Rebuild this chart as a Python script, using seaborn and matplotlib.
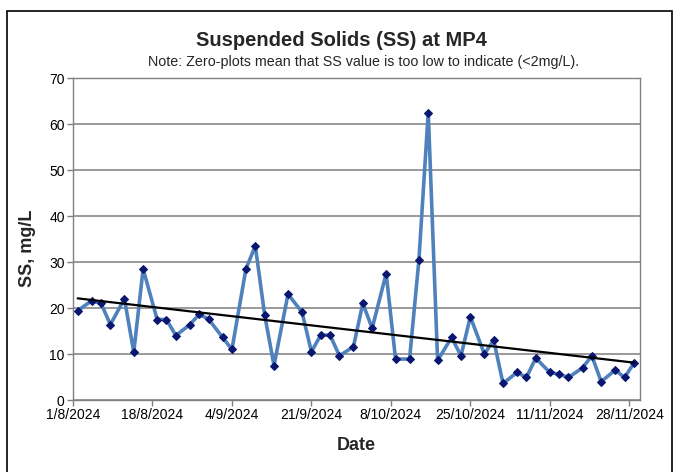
import numpy as np
import pandas as pd
import matplotlib
matplotlib.use("Agg")
import matplotlib.pyplot as plt
import matplotlib.dates as mdates
import seaborn as sns

# ---- data ----
dates = [
    "2024-08-02", "2024-08-05", "2024-08-07", "2024-08-09", "2024-08-12", "2024-08-14",
    "2024-08-16", "2024-08-19", "2024-08-21", "2024-08-23", "2024-08-26", "2024-08-28",
    "2024-08-30", "2024-09-02", "2024-09-04", "2024-09-07", "2024-09-09", "2024-09-11",
    "2024-09-13", "2024-09-16", "2024-09-19", "2024-09-21", "2024-09-23", "2024-09-25",
    "2024-09-27", "2024-09-30", "2024-10-02", "2024-10-04", "2024-10-07", "2024-10-09",
    "2024-10-12", "2024-10-14", "2024-10-16", "2024-10-18", "2024-10-21", "2024-10-23",
    "2024-10-25", "2024-10-28", "2024-10-30", "2024-11-01", "2024-11-04", "2024-11-06",
    "2024-11-08", "2024-11-11", "2024-11-13", "2024-11-15", "2024-11-18", "2024-11-20",
    "2024-11-22", "2024-11-25", "2024-11-27", "2024-11-29",
]
ss_values = [
    19.4, 21.6, 21.0, 16.4, 22.0, 10.4,
    28.5, 17.5, 17.5, 14.0, 16.4, 18.6,
    17.6, 13.6, 11.0, 28.5, 33.5, 18.5,
    7.5, 23.0, 19.1, 10.5, 14.1, 14.1,
    9.6, 11.6, 21.0, 15.6, 27.5, 8.9,
    8.9, 30.4, 62.5, 8.6, 13.6, 9.6,
    18.1, 10.0, 13.0, 3.6, 6.0, 4.9,
    9.1, 6.0, 5.6, 4.9, 7.0, 9.6,
    4.0, 6.5, 4.9, 8.0,
]
tick_dates = ["2024-08-01", "2024-08-18", "2024-09-04", "2024-09-21",
              "2024-10-08", "2024-10-25", "2024-11-11", "2024-11-28"]
tick_labels = ["1/8/2024", "18/8/2024", "4/9/2024", "21/9/2024",
               "8/10/2024", "25/10/2024", "11/11/2024", "28/11/2024"]
y_ticks = [0, 10, 20, 30, 40, 50, 60, 70]

df = pd.DataFrame({"Date": pd.to_datetime(dates), "SS": ss_values})

sns.set_theme(style="white")
plt.rcParams["font.family"] = ["Liberation Sans", "DejaVu Sans"]

fig = plt.figure(figsize=(6.76, 4.72), dpi=100)
ax = fig.add_axes([73 / 676, 1 - 400 / 472, (640 - 73) / 676, (400 - 78) / 472])

# outer frame
fig.patches.append(plt.Rectangle((7 / 676, -0.05), (672 - 7) / 676, 1.05 - 11 / 472,
                                 transform=fig.transFigure, fill=False,
                                 edgecolor="black", linewidth=1.2))

sns.lineplot(data=df, x="Date", y="SS", ax=ax, color="#4F81BD", linewidth=2.6,
             marker="D", markersize=4.5, markerfacecolor="#0A1670",
             markeredgecolor="#0A1670", zorder=3)

# linear trend line
xnum = mdates.date2num(df["Date"])
coef = np.polyfit(xnum, df["SS"], 1)
xt = np.array([xnum.min(), xnum.max()])
ax.plot(xt, np.polyval(coef, xt), color="black", linewidth=1.6, zorder=4)

ax.set_ylim(0, 70)
ax.set_yticks(y_ticks)
ax.set_xlim(mdates.date2num(pd.Timestamp("2024-08-01")),
            mdates.date2num(pd.Timestamp("2024-11-30")) + 0.3)
ax.set_xticks(mdates.date2num(pd.to_datetime(tick_dates)))
ax.set_xticklabels(tick_labels)

ax.yaxis.grid(True, color="#7f7f7f", linewidth=1.1)
ax.xaxis.grid(False)
for s in ax.spines.values():
    s.set_color("#808080")
    s.set_linewidth(1.0)
ax.tick_params(axis="both", labelsize=10, colors="black", length=4,
               width=1, direction="out", bottom=True, left=True, pad=2)
ax.tick_params(axis="both", color="#808080")

ax.set_xlabel("Date", fontsize=13, fontweight="bold")
ax.xaxis.set_label_coords(0.5, -(445 - 400) / 322, transform=ax.transAxes)
ax.xaxis.label.set_va("center")
ax.set_ylabel("SS, mg/L", fontsize=13, fontweight="bold")
ax.yaxis.set_label_coords(-(73 - 27) / 567, (400 - 248) / 322, transform=ax.transAxes)
ax.yaxis.label.set_va("center")

fig.text(341 / 676, 1 - 40 / 472, "Suspended Solids (SS) at MP4",
         ha="center", va="center", fontsize=14.5, fontweight="bold")
fig.text(364 / 676, 1 - 62 / 472,
         "Note: Zero-plots mean that SS value is too low to indicate (<2mg/L).",
         ha="center", va="center", fontsize=10.3)

fig.savefig("out.png", dpi=100)
